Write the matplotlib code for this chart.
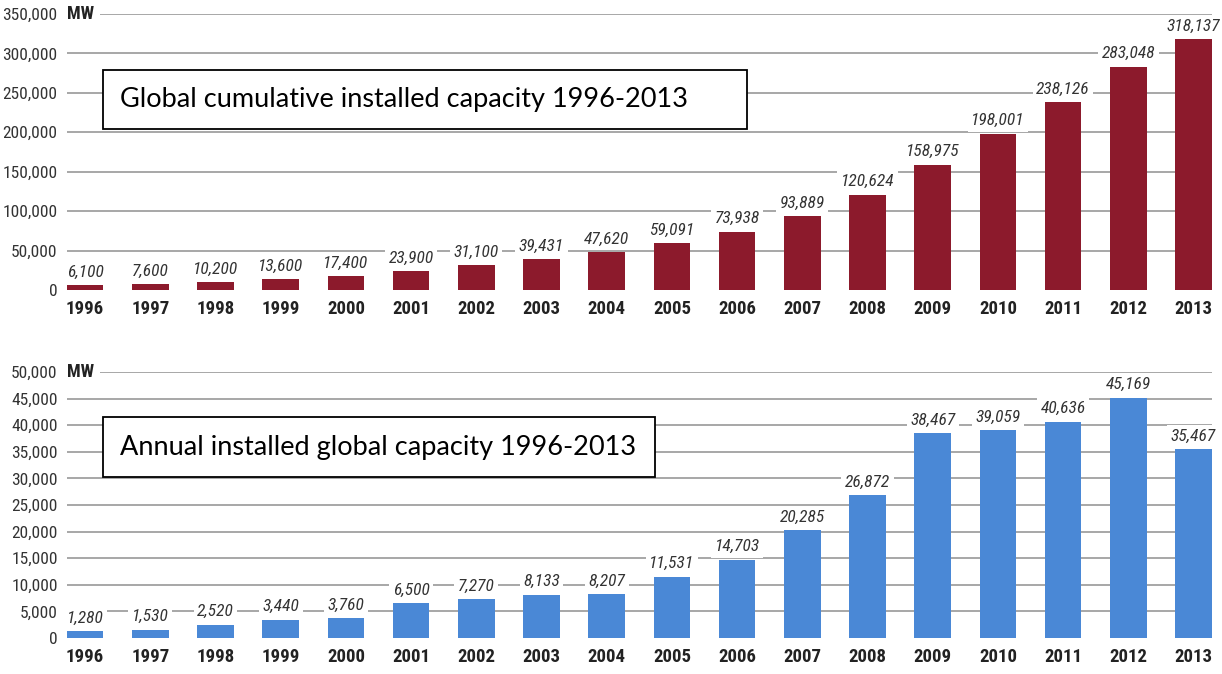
import matplotlib.pyplot as plt
from matplotlib import font_manager
from matplotlib.patches import Rectangle
import numpy as np

# ----------------------
# Data
# ----------------------
years = [str(y) for y in range(1996, 2014)]
cumulative = [6100, 7600, 10200, 13600, 17400, 23900, 31100, 39431, 47620,
              59091, 73938, 93889, 120624, 158975, 198001, 238126, 283048, 318137]
annual = [1280, 1530, 2520, 3440, 3760, 6500, 7270, 8133, 8207,
          11531, 14703, 20285, 26872, 38467, 39059, 40636, 45169, 35467]

top_ticks = list(range(0, 350001, 50000))
bottom_ticks = list(range(0, 50001, 5000))

red = '#8c1a2c'
blue = '#4a88d6'
grid_col = '#a0a0a0'
txt_col = '#333333'

# smalle letter zoeken, anders Roboto iets kleiner
beschikbaar = {f.name for f in font_manager.fontManager.ttflist}
smal = None
for naam in ['Liberation Sans Narrow', 'Roboto Condensed', 'Open Sans Condensed',
             'DejaVu Sans Condensed']:
    if naam in beschikbaar:
        smal = naam
        break
if smal is None:
    cond = ['Roboto', 'DejaVu Sans']
    schaal = 0.85
else:
    cond = [smal, 'DejaVu Sans']
    schaal = 1.0

W, H = 1222, 674
fig = plt.figure(figsize=(W / 100, H / 100), dpi=100)


def titelkader(x0, y0, x1, y1, title):
    # kader in pixels (vanaf linksboven) omzetten naar figuurcoordinaten
    fig.patches.append(Rectangle((x0 / W, 1 - y1 / H), (x1 - x0) / W, (y1 - y0) / H,
                                 transform=fig.transFigure, fc='white', ec='black',
                                 lw=1.3, zorder=5))
    fig.text((x0 + 17) / W, 1 - (y0 + y1) / 2 / H, title, fontsize=19.5,
             family=['Lato', 'DejaVu Sans'], color='black', ha='left', va='center',
             zorder=6)


def paneel(rect, values, ticks, color):
    ax = fig.add_axes(rect)
    x = np.arange(len(values))
    ax.set_xlim(-0.27, len(values) - 0.71)
    ax.set_ylim(0, ticks[-1])

    # gridlijnen (niet bij 0)
    for t in ticks[1:]:
        ax.axhline(t, color=grid_col, lw=1.3, zorder=0)

    ax.bar(x, values, width=0.56, color=color, zorder=2)

    for xi, v in zip(x, values):
        ax.annotate(f'{v:,}', (xi, v), xytext=(0, 4), textcoords='offset points',
                    ha='center', va='bottom', fontsize=12.5 * schaal, style='italic',
                    color=txt_col, family=cond, zorder=3,
                    bbox=dict(boxstyle='square,pad=0.2', fc='white', ec='none'))

    ax.set_yticks(ticks)
    ax.set_yticklabels([f'{t:,}' for t in ticks], fontsize=12.5 * schaal,
                       color=txt_col, family=cond)
    ax.set_xticks(x)
    ax.set_xticklabels(years, fontsize=13.5 * schaal, fontweight='bold',
                       color='#222222', family=cond)
    ax.tick_params(length=0, axis='y', pad=7)
    ax.tick_params(length=0, axis='x', pad=7)
    for s in ax.spines.values():
        s.set_visible(False)

    # MW label naast bovenste tick
    ax.text(-0.27, ticks[-1], 'MW', ha='left', va='center', fontsize=13 * schaal,
            fontweight='bold', color='#222222', family=cond,
            bbox=dict(boxstyle='square,pad=0.3', fc='white', ec='none'), zorder=3)
    return ax


paneel([0.0552, 0.5697, 0.937, 0.4095], cumulative, top_ticks, red)
paneel([0.0552, 0.0534, 0.937, 0.3947], annual, bottom_ticks, blue)

titelkader(103, 70, 747, 129, 'Global cumulative installed capacity 1996-2013')
titelkader(103, 417, 655, 477, 'Annual installed global capacity 1996-2013')

fig.savefig('out.png', dpi=100)
